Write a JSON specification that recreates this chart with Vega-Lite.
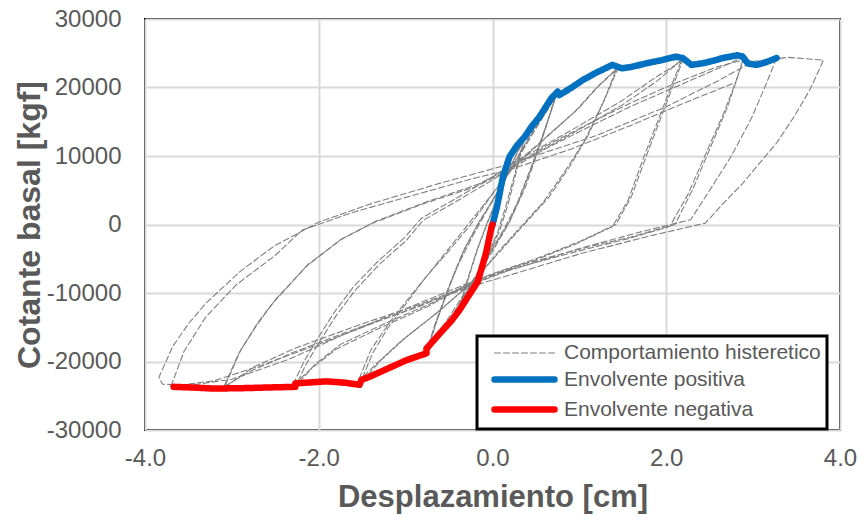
{
  "$schema": "https://vega.github.io/schema/vega-lite/v6.json",
  "width": 695,
  "height": 411,
  "autosize": {"type": "none"},
  "padding": {"left": 145, "top": 19, "right": 22, "bottom": 86},
  "background": "white",
  "config": {
    "font": "Liberation Sans",
    "view": {"stroke": "black", "strokeWidth": 2},
    "axis": {"labelFont": "Liberation Sans", "labelColor": "#595959", "titleColor": "#595959", "titleFont": "Liberation Sans", "domain": false, "ticks": false, "gridColor": "#d9d9d9", "gridWidth": 2}
  },
  "datasets": {
    "d": [
      {"s":"h","c":"A1","x":0.2,"y":9900},{"s":"h","c":"A1","x":0.12,"y":5500},{"s":"h","c":"A1","x":0.04,"y":1000},{"s":"h","c":"A1","x":-0.04,"y":-3000},{"s":"h","c":"A1","x":-0.1,"y":-6000},{"s":"h","c":"A1","x":-0.17,"y":-8350},{"s":"h","c":"A1","x":-0.1,"y":-4500},{"s":"h","c":"A1","x":-0.03,"y":-800},{"s":"h","c":"A1","x":0.05,"y":3000},{"s":"h","c":"A1","x":0.12,"y":6500},{"s":"h","c":"A1","x":0.2,"y":9900},
      {"s":"h","c":"A2","x":0.21,"y":10200},{"s":"h","c":"A2","x":0.13,"y":5800},{"s":"h","c":"A2","x":0.06,"y":1500},{"s":"h","c":"A2","x":-0.02,"y":-2500},{"s":"h","c":"A2","x":-0.1,"y":-6200},{"s":"h","c":"A2","x":-0.18,"y":-8800},{"s":"h","c":"A2","x":-0.11,"y":-5000},{"s":"h","c":"A2","x":-0.04,"y":-1200},{"s":"h","c":"A2","x":0.04,"y":2500},{"s":"h","c":"A2","x":0.13,"y":7000},{"s":"h","c":"A2","x":0.22,"y":10500},
      {"s":"h","c":"B1","x":0.37,"y":12800},{"s":"h","c":"B1","x":0.28,"y":8000},{"s":"h","c":"B1","x":0.18,"y":3000},{"s":"h","c":"B1","x":0.08,"y":-1000},{"s":"h","c":"B1","x":-0.05,"y":-4500},{"s":"h","c":"B1","x":-0.2,"y":-8500},{"s":"h","c":"B1","x":-0.38,"y":-12500},{"s":"h","c":"B1","x":-0.28,"y":-8000},{"s":"h","c":"B1","x":-0.17,"y":-3500},{"s":"h","c":"B1","x":-0.05,"y":500},{"s":"h","c":"B1","x":0.08,"y":4500},{"s":"h","c":"B1","x":0.22,"y":8800},{"s":"h","c":"B1","x":0.37,"y":12800},
      {"s":"h","c":"B2","x":0.36,"y":12300},{"s":"h","c":"B2","x":0.26,"y":7500},{"s":"h","c":"B2","x":0.15,"y":2500},{"s":"h","c":"B2","x":0.05,"y":-1500},{"s":"h","c":"B2","x":-0.08,"y":-5000},{"s":"h","c":"B2","x":-0.22,"y":-9000},{"s":"h","c":"B2","x":-0.4,"y":-13000},{"s":"h","c":"B2","x":-0.3,"y":-8500},{"s":"h","c":"B2","x":-0.18,"y":-3800},{"s":"h","c":"B2","x":-0.06,"y":300},{"s":"h","c":"B2","x":0.07,"y":4200},{"s":"h","c":"B2","x":0.2,"y":8300},{"s":"h","c":"B2","x":0.36,"y":12300},
      {"s":"h","c":"C1","x":0.75,"y":19400},{"s":"h","c":"C1","x":0.62,"y":14500},{"s":"h","c":"C1","x":0.47,"y":9000},{"s":"h","c":"C1","x":0.32,"y":4000},{"s":"h","c":"C1","x":0.18,"y":0},{"s":"h","c":"C1","x":0.02,"y":-3500},{"s":"h","c":"C1","x":-0.18,"y":-7500},{"s":"h","c":"C1","x":-0.42,"y":-12500},{"s":"h","c":"C1","x":-0.6,"y":-15800},{"s":"h","c":"C1","x":-0.76,"y":-18800},{"s":"h","c":"C1","x":-0.64,"y":-14000},{"s":"h","c":"C1","x":-0.48,"y":-8500},{"s":"h","c":"C1","x":-0.32,"y":-3500},{"s":"h","c":"C1","x":-0.15,"y":500},{"s":"h","c":"C1","x":0.05,"y":4500},{"s":"h","c":"C1","x":0.25,"y":9000},{"s":"h","c":"C1","x":0.5,"y":14500},{"s":"h","c":"C1","x":0.75,"y":19400},
      {"s":"h","c":"C2","x":0.73,"y":18800},{"s":"h","c":"C2","x":0.6,"y":13800},{"s":"h","c":"C2","x":0.44,"y":8200},{"s":"h","c":"C2","x":0.28,"y":3000},{"s":"h","c":"C2","x":0.14,"y":-500},{"s":"h","c":"C2","x":-0.02,"y":-4000},{"s":"h","c":"C2","x":-0.22,"y":-8200},{"s":"h","c":"C2","x":-0.45,"y":-13000},{"s":"h","c":"C2","x":-0.62,"y":-16200},{"s":"h","c":"C2","x":-0.78,"y":-19300},{"s":"h","c":"C2","x":-0.66,"y":-14500},{"s":"h","c":"C2","x":-0.5,"y":-9000},{"s":"h","c":"C2","x":-0.34,"y":-4000},{"s":"h","c":"C2","x":-0.17,"y":0},{"s":"h","c":"C2","x":0.03,"y":4000},{"s":"h","c":"C2","x":0.23,"y":8500},{"s":"h","c":"C2","x":0.48,"y":13800},{"s":"h","c":"C2","x":0.74,"y":19000},
      {"s":"h","c":"C3","x":0.72,"y":18500},{"s":"h","c":"C3","x":0.56,"y":12000},{"s":"h","c":"C3","x":0.38,"y":5500},{"s":"h","c":"C3","x":0.2,"y":500},{"s":"h","c":"C3","x":0.0,"y":-3500},{"s":"h","c":"C3","x":-0.22,"y":-8000},{"s":"h","c":"C3","x":-0.5,"y":-13500},{"s":"h","c":"C3","x":-0.75,"y":-18200},{"s":"h","c":"C3","x":-0.6,"y":-12500},{"s":"h","c":"C3","x":-0.42,"y":-6500},{"s":"h","c":"C3","x":-0.22,"y":-1500},{"s":"h","c":"C3","x":0.0,"y":3500},{"s":"h","c":"C3","x":0.25,"y":8800},{"s":"h","c":"C3","x":0.5,"y":14000},{"s":"h","c":"C3","x":0.72,"y":18500},
      {"s":"h","c":"D1","x":1.45,"y":23000},{"s":"h","c":"D1","x":1.3,"y":18500},{"s":"h","c":"D1","x":1.1,"y":13000},{"s":"h","c":"D1","x":0.89,"y":8500},{"s":"h","c":"D1","x":0.65,"y":4000},{"s":"h","c":"D1","x":0.4,"y":500},{"s":"h","c":"D1","x":0.15,"y":-3000},{"s":"h","c":"D1","x":-0.2,"y":-8000},{"s":"h","c":"D1","x":-0.6,"y":-12500},{"s":"h","c":"D1","x":-1.0,"y":-16500},{"s":"h","c":"D1","x":-1.3,"y":-20000},{"s":"h","c":"D1","x":-1.53,"y":-23400},{"s":"h","c":"D1","x":-1.38,"y":-18800},{"s":"h","c":"D1","x":-1.2,"y":-15000},{"s":"h","c":"D1","x":-0.99,"y":-11500},{"s":"h","c":"D1","x":-0.8,"y":-8200},{"s":"h","c":"D1","x":-0.61,"y":-5200},{"s":"h","c":"D1","x":-0.3,"y":-300},{"s":"h","c":"D1","x":0.0,"y":4500},{"s":"h","c":"D1","x":0.25,"y":8500},{"s":"h","c":"D1","x":0.6,"y":12500},{"s":"h","c":"D1","x":0.95,"y":16500},{"s":"h","c":"D1","x":1.2,"y":20000},{"s":"h","c":"D1","x":1.45,"y":23000},
      {"s":"h","c":"D2","x":1.42,"y":22500},{"s":"h","c":"D2","x":1.28,"y":18000},{"s":"h","c":"D2","x":1.05,"y":12000},{"s":"h","c":"D2","x":0.82,"y":7500},{"s":"h","c":"D2","x":0.58,"y":3200},{"s":"h","c":"D2","x":0.35,"y":0},{"s":"h","c":"D2","x":0.1,"y":-3500},{"s":"h","c":"D2","x":-0.22,"y":-8300},{"s":"h","c":"D2","x":-0.65,"y":-13000},{"s":"h","c":"D2","x":-1.05,"y":-17000},{"s":"h","c":"D2","x":-1.35,"y":-20500},{"s":"h","c":"D2","x":-1.55,"y":-23000},{"s":"h","c":"D2","x":-1.4,"y":-18300},{"s":"h","c":"D2","x":-1.18,"y":-14200},{"s":"h","c":"D2","x":-0.95,"y":-10500},{"s":"h","c":"D2","x":-0.72,"y":-7000},{"s":"h","c":"D2","x":-0.5,"y":-3800},{"s":"h","c":"D2","x":-0.25,"y":0},{"s":"h","c":"D2","x":0.02,"y":4800},{"s":"h","c":"D2","x":0.28,"y":9000},{"s":"h","c":"D2","x":0.62,"y":12800},{"s":"h","c":"D2","x":0.98,"y":16800},{"s":"h","c":"D2","x":1.22,"y":20200},{"s":"h","c":"D2","x":1.42,"y":22500},
      {"s":"h","c":"E1","x":2.2,"y":24300},{"s":"h","c":"E1","x":2.1,"y":21000},{"s":"h","c":"E1","x":1.95,"y":16000},{"s":"h","c":"E1","x":1.8,"y":11000},{"s":"h","c":"E1","x":1.6,"y":4100},{"s":"h","c":"E1","x":1.42,"y":0},{"s":"h","c":"E1","x":1.0,"y":-2500},{"s":"h","c":"E1","x":0.5,"y":-5000},{"s":"h","c":"E1","x":0.0,"y":-7200},{"s":"h","c":"E1","x":-0.25,"y":-8500},{"s":"h","c":"E1","x":-0.7,"y":-11500},{"s":"h","c":"E1","x":-1.23,"y":-14400},{"s":"h","c":"E1","x":-1.75,"y":-17500},{"s":"h","c":"E1","x":-2.05,"y":-20500},{"s":"h","c":"E1","x":-2.27,"y":-23700},{"s":"h","c":"E1","x":-2.15,"y":-20500},{"s":"h","c":"E1","x":-2.0,"y":-17300},{"s":"h","c":"E1","x":-1.8,"y":-13300},{"s":"h","c":"E1","x":-1.58,"y":-9600},{"s":"h","c":"E1","x":-1.3,"y":-5800},{"s":"h","c":"E1","x":-0.99,"y":-2300},{"s":"h","c":"E1","x":-0.8,"y":600},{"s":"h","c":"E1","x":-0.4,"y":3500},{"s":"h","c":"E1","x":0.0,"y":6500},{"s":"h","c":"E1","x":0.3,"y":9000},{"s":"h","c":"E1","x":0.92,"y":13300},{"s":"h","c":"E1","x":1.5,"y":17500},{"s":"h","c":"E1","x":1.9,"y":21000},{"s":"h","c":"E1","x":2.2,"y":24300},
      {"s":"h","c":"E2","x":2.17,"y":23800},{"s":"h","c":"E2","x":2.06,"y":20300},{"s":"h","c":"E2","x":1.9,"y":15000},{"s":"h","c":"E2","x":1.74,"y":9800},{"s":"h","c":"E2","x":1.56,"y":3500},{"s":"h","c":"E2","x":1.38,"y":-300},{"s":"h","c":"E2","x":0.95,"y":-2900},{"s":"h","c":"E2","x":0.45,"y":-5400},{"s":"h","c":"E2","x":-0.05,"y":-7500},{"s":"h","c":"E2","x":-0.3,"y":-8900},{"s":"h","c":"E2","x":-0.75,"y":-12000},{"s":"h","c":"E2","x":-1.28,"y":-15000},{"s":"h","c":"E2","x":-1.8,"y":-18200},{"s":"h","c":"E2","x":-2.1,"y":-21200},{"s":"h","c":"E2","x":-2.3,"y":-23500},{"s":"h","c":"E2","x":-2.17,"y":-20000},{"s":"h","c":"E2","x":-2.02,"y":-16800},{"s":"h","c":"E2","x":-1.82,"y":-12800},{"s":"h","c":"E2","x":-1.6,"y":-9100},{"s":"h","c":"E2","x":-1.32,"y":-5400},{"s":"h","c":"E2","x":-1.02,"y":-2000},{"s":"h","c":"E2","x":-0.82,"y":900},{"s":"h","c":"E2","x":-0.42,"y":3800},{"s":"h","c":"E2","x":-0.02,"y":6800},{"s":"h","c":"E2","x":0.28,"y":9300},{"s":"h","c":"E2","x":0.9,"y":13700},{"s":"h","c":"E2","x":1.48,"y":18000},{"s":"h","c":"E2","x":1.88,"y":21500},{"s":"h","c":"E2","x":2.17,"y":23800},
      {"s":"h","c":"F1","x":2.9,"y":24500},{"s":"h","c":"F1","x":2.82,"y":21500},{"s":"h","c":"F1","x":2.7,"y":17000},{"s":"h","c":"F1","x":2.5,"y":11000},{"s":"h","c":"F1","x":2.3,"y":5000},{"s":"h","c":"F1","x":2.1,"y":0},{"s":"h","c":"F1","x":1.6,"y":-1800},{"s":"h","c":"F1","x":1.0,"y":-3600},{"s":"h","c":"F1","x":0.3,"y":-6000},{"s":"h","c":"F1","x":-0.2,"y":-8500},{"s":"h","c":"F1","x":-0.8,"y":-11500},{"s":"h","c":"F1","x":-1.5,"y":-14500},{"s":"h","c":"F1","x":-2.26,"y":-18000},{"s":"h","c":"F1","x":-2.75,"y":-20800},{"s":"h","c":"F1","x":-3.1,"y":-23900},{"s":"h","c":"F1","x":-2.92,"y":-18800},{"s":"h","c":"F1","x":-2.72,"y":-14800},{"s":"h","c":"F1","x":-2.53,"y":-11500},{"s":"h","c":"F1","x":-2.15,"y":-6200},{"s":"h","c":"F1","x":-1.76,"y":-2300},{"s":"h","c":"F1","x":-1.38,"y":200},{"s":"h","c":"F1","x":-0.8,"y":3000},{"s":"h","c":"F1","x":-0.2,"y":5500},{"s":"h","c":"F1","x":0.2,"y":8000},{"s":"h","c":"F1","x":0.6,"y":11000},{"s":"h","c":"F1","x":1.12,"y":14300},{"s":"h","c":"F1","x":1.6,"y":17300},{"s":"h","c":"F1","x":2.11,"y":20100},{"s":"h","c":"F1","x":2.6,"y":22800},{"s":"h","c":"F1","x":2.9,"y":24500},
      {"s":"h","c":"F2","x":2.88,"y":24000},{"s":"h","c":"F2","x":2.8,"y":20800},{"s":"h","c":"F2","x":2.66,"y":16200},{"s":"h","c":"F2","x":2.45,"y":10200},{"s":"h","c":"F2","x":2.25,"y":4400},{"s":"h","c":"F2","x":2.04,"y":-300},{"s":"h","c":"F2","x":1.55,"y":-2100},{"s":"h","c":"F2","x":0.95,"y":-4000},{"s":"h","c":"F2","x":0.25,"y":-6400},{"s":"h","c":"F2","x":-0.25,"y":-8800},{"s":"h","c":"F2","x":-0.85,"y":-12000},{"s":"h","c":"F2","x":-1.55,"y":-15100},{"s":"h","c":"F2","x":-2.3,"y":-18700},{"s":"h","c":"F2","x":-2.8,"y":-21500},{"s":"h","c":"F2","x":-3.08,"y":-23600},{"s":"h","c":"F2","x":-2.9,"y":-18400},{"s":"h","c":"F2","x":-2.7,"y":-14300},{"s":"h","c":"F2","x":-2.5,"y":-11000},{"s":"h","c":"F2","x":-2.12,"y":-5800},{"s":"h","c":"F2","x":-1.72,"y":-2000},{"s":"h","c":"F2","x":-1.34,"y":500},{"s":"h","c":"F2","x":-0.76,"y":3300},{"s":"h","c":"F2","x":-0.16,"y":5900},{"s":"h","c":"F2","x":0.22,"y":8400},{"s":"h","c":"F2","x":0.62,"y":11500},{"s":"h","c":"F2","x":1.12,"y":14800},{"s":"h","c":"F2","x":1.6,"y":17800},{"s":"h","c":"F2","x":2.08,"y":20500},{"s":"h","c":"F2","x":2.58,"y":23000},{"s":"h","c":"F2","x":2.88,"y":24000},
      {"s":"h","c":"G","x":3.27,"y":24300},{"s":"h","c":"G","x":3.15,"y":20500},{"s":"h","c":"G","x":2.98,"y":15500},{"s":"h","c":"G","x":2.75,"y":10000},{"s":"h","c":"G","x":2.5,"y":5000},{"s":"h","c":"G","x":2.28,"y":700},{"s":"h","c":"G","x":1.73,"y":-1000},{"s":"h","c":"G","x":1.0,"y":-3500},{"s":"h","c":"G","x":0.3,"y":-6300},{"s":"h","c":"G","x":-0.19,"y":-8100},{"s":"h","c":"G","x":-1.0,"y":-12300},{"s":"h","c":"G","x":-1.7,"y":-16000},{"s":"h","c":"G","x":-2.33,"y":-19600},{"s":"h","c":"G","x":-3.0,"y":-22600},{"s":"h","c":"G","x":-3.5,"y":-23500},{"s":"h","c":"G","x":-3.8,"y":-23300},{"s":"h","c":"G","x":-3.84,"y":-22300},{"s":"h","c":"G","x":-3.68,"y":-17800},{"s":"h","c":"G","x":-3.5,"y":-14500},{"s":"h","c":"G","x":-3.3,"y":-11500},{"s":"h","c":"G","x":-2.9,"y":-6800},{"s":"h","c":"G","x":-2.52,"y":-3200},{"s":"h","c":"G","x":-1.99,"y":400},{"s":"h","c":"G","x":-1.38,"y":3100},{"s":"h","c":"G","x":-0.61,"y":6000},{"s":"h","c":"G","x":0.08,"y":8400},{"s":"h","c":"G","x":0.6,"y":10500},{"s":"h","c":"G","x":1.2,"y":13000},{"s":"h","c":"G","x":2.0,"y":17200},{"s":"h","c":"G","x":2.6,"y":21000},{"s":"h","c":"G","x":3.0,"y":23800},{"s":"h","c":"G","x":3.4,"y":24400},{"s":"h","c":"G","x":3.81,"y":24000},{"s":"h","c":"G","x":3.72,"y":21500},{"s":"h","c":"G","x":3.65,"y":19600},{"s":"h","c":"G","x":3.47,"y":15700},{"s":"h","c":"G","x":3.27,"y":11900},{"s":"h","c":"G","x":3.07,"y":8900},{"s":"h","c":"G","x":2.88,"y":6000},{"s":"h","c":"G","x":2.65,"y":3000},{"s":"h","c":"G","x":2.45,"y":200},{"s":"h","c":"G","x":1.8,"y":-1700},{"s":"h","c":"G","x":1.0,"y":-4300},{"s":"h","c":"G","x":0.3,"y":-7000},{"s":"h","c":"G","x":-0.26,"y":-9100},{"s":"h","c":"G","x":-1.0,"y":-12600},{"s":"h","c":"G","x":-1.8,"y":-16500},{"s":"h","c":"G","x":-2.6,"y":-20300},{"s":"h","c":"G","x":-3.2,"y":-22800},{"s":"h","c":"G","x":-3.7,"y":-23600},
      {"s":"h","c":"H","x":-3.7,"y":-23600},{"s":"h","c":"H","x":-3.55,"y":-18500},{"s":"h","c":"H","x":-3.3,"y":-13500},{"s":"h","c":"H","x":-2.95,"y":-8800},{"s":"h","c":"H","x":-2.5,"y":-4500},{"s":"h","c":"H","x":-2.19,"y":-800},{"s":"h","c":"H","x":-1.6,"y":1800},{"s":"h","c":"H","x":-0.9,"y":4300},{"s":"h","c":"H","x":-0.2,"y":6800},{"s":"h","c":"H","x":0.2,"y":8000},{"s":"h","c":"H","x":0.9,"y":11000},{"s":"h","c":"H","x":1.6,"y":14500},{"s":"h","c":"H","x":2.2,"y":17700},{"s":"h","c":"H","x":2.77,"y":20600},
      {"s":"p","c":"P","x":0,"y":0},{"s":"p","c":"P","x":0.05,"y":2500},{"s":"p","c":"P","x":0.12,"y":6980},{"s":"p","c":"P","x":0.196,"y":9900},{"s":"p","c":"P","x":0.28,"y":11500},{"s":"p","c":"P","x":0.37,"y":12800},{"s":"p","c":"P","x":0.45,"y":14300},{"s":"p","c":"P","x":0.54,"y":15700},{"s":"p","c":"P","x":0.675,"y":18400},{"s":"p","c":"P","x":0.75,"y":19400},{"s":"p","c":"P","x":0.77,"y":18900},{"s":"p","c":"P","x":0.9,"y":19900},{"s":"p","c":"P","x":1.04,"y":21100},{"s":"p","c":"P","x":1.2,"y":22200},{"s":"p","c":"P","x":1.38,"y":23300},{"s":"p","c":"P","x":1.49,"y":22800},{"s":"p","c":"P","x":1.6,"y":23000},{"s":"p","c":"P","x":1.76,"y":23500},{"s":"p","c":"P","x":1.95,"y":24000},{"s":"p","c":"P","x":2.11,"y":24500},{"s":"p","c":"P","x":2.19,"y":24300},{"s":"p","c":"P","x":2.29,"y":23300},{"s":"p","c":"P","x":2.45,"y":23600},{"s":"p","c":"P","x":2.65,"y":24300},{"s":"p","c":"P","x":2.82,"y":24700},{"s":"p","c":"P","x":2.88,"y":24500},{"s":"p","c":"P","x":2.94,"y":23500},{"s":"p","c":"P","x":3.04,"y":23300},{"s":"p","c":"P","x":3.15,"y":23700},{"s":"p","c":"P","x":3.27,"y":24300},
      {"s":"n","c":"N","x":0,"y":0},{"s":"n","c":"N","x":-0.01,"y":-300},{"s":"n","c":"N","x":-0.075,"y":-4200},{"s":"n","c":"N","x":-0.17,"y":-8350},{"s":"n","c":"N","x":-0.28,"y":-10500},{"s":"n","c":"N","x":-0.38,"y":-12500},{"s":"n","c":"N","x":-0.47,"y":-14000},{"s":"n","c":"N","x":-0.57,"y":-15400},{"s":"n","c":"N","x":-0.76,"y":-18100},{"s":"n","c":"N","x":-0.76,"y":-18800},{"s":"n","c":"N","x":-0.99,"y":-19800},{"s":"n","c":"N","x":-1.2,"y":-21000},{"s":"n","c":"N","x":-1.41,"y":-22200},{"s":"n","c":"N","x":-1.51,"y":-22700},{"s":"n","c":"N","x":-1.53,"y":-23400},{"s":"n","c":"N","x":-1.7,"y":-23100},{"s":"n","c":"N","x":-1.91,"y":-22900},{"s":"n","c":"N","x":-2.27,"y":-23200},{"s":"n","c":"N","x":-2.27,"y":-23700},{"s":"n","c":"N","x":-2.6,"y":-23800},{"s":"n","c":"N","x":-2.9,"y":-23900},{"s":"n","c":"N","x":-3.21,"y":-23950},{"s":"n","c":"N","x":-3.45,"y":-23800},{"s":"n","c":"N","x":-3.67,"y":-23700}
    ]
  },
  "layer": [
    {
      "mark": {"type": "rule", "color": "#bfbfbf", "strokeWidth": 2},
      "encoding": {"x": {"datum": 0, "type": "quantitative"}}
    },
    {
      "mark": {"type": "rule", "color": "#bfbfbf", "strokeWidth": 2},
      "encoding": {"y": {"datum": 0, "type": "quantitative"}}
    },
    {
      "data": {"name": "d"},
      "mark": {"type": "line", "strokeCap": "round", "strokeJoin": "round", "clip": true},
      "encoding": {
        "x": {"field": "x", "type": "quantitative", "scale": {"domain": [-4, 4], "nice": false}, "axis": {"title": "Desplazamiento [cm]", "values": [-4, -2, 0, 2, 4], "format": ".1f", "labelExpr": "replace(datum.label, '\u2212', '-')", "labelFlush": false, "labelFontSize": 24, "labelPadding": 16, "titleFontSize": 31, "titleFontWeight": "bold", "titlePadding": 12, "grid": true}},
        "y": {"field": "y", "type": "quantitative", "scale": {"domain": [-30000, 30000], "nice": false}, "axis": {"title": "Cotante basal [kgf]", "values": [-30000, -20000, -10000, 0, 10000, 20000, 30000], "format": "d", "labelExpr": "replace(datum.label, '\u2212', '-')", "labelFlush": false, "labelFontSize": 24, "labelPadding": 24, "titleFontSize": 32, "titleFontWeight": "bold", "titlePadding": 0, "grid": true}},
        "detail": {"field": "c"},
        "order": {"value": null},
        "color": {"field": "s", "type": "nominal", "scale": {"domain": ["h", "p", "n"], "range": ["#7f7f7f", "#0070c0", "#ff0000"]},
          "legend": {"title": null, "orient": "none", "legendX": 332, "legendY": 317, "symbolType": "M-3,0H3", "symbolSize": 400, "symbolOffset": 28, "labelFontSize": 21, "labelLimit": 400, "labelColor": "#595959", "labelFont": "Liberation Sans", "labelOffset": 26, "rowPadding": 3, "padding": 6, "strokeColor": "black", "fillColor": "white",
            "labelExpr": "datum.label == 'h' ? 'Comportamiento histeretico' : datum.label == 'p' ? 'Envolvente positiva' : 'Envolvente negativa'",
            "encode": {"legend": {"update": {"strokeWidth": {"value": 3}}}, "symbols": {"update": {"strokeCap": {"value": "round"}}}}}},
        "strokeDash": {"field": "s", "type": "nominal", "scale": {"domain": ["h", "p", "n"], "range": [[6, 3], [1, 0], [1, 0]]}},
        "strokeWidth": {"field": "s", "type": "nominal", "scale": {"type": "ordinal", "domain": ["h", "p", "n"], "range": [1.1, 6.5, 6.5]}}
      }
    }
  ]
}
